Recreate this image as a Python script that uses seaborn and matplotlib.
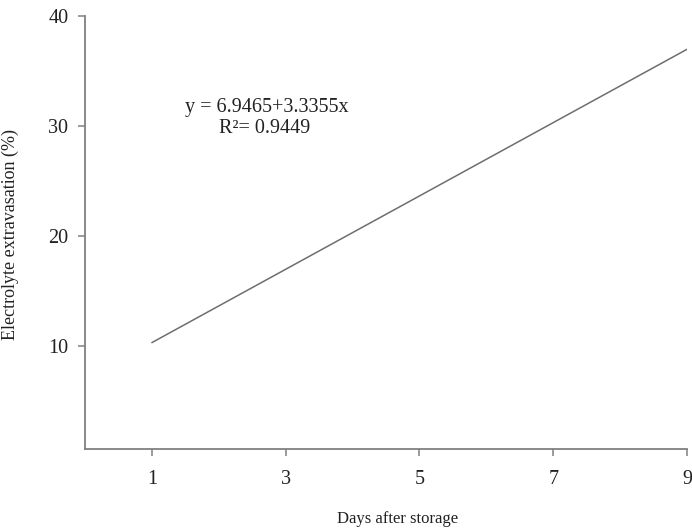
import matplotlib
matplotlib.use("Agg")
import matplotlib.pyplot as plt
import seaborn as sns
import pandas as pd

days = [1, 9]
intercept = 6.9465
slope = 3.3355
extravasation = [10.28, 36.97]
x_ticks = [1, 3, 5, 7, 9]
y_ticks = [10, 20, 30, 40]

sns.set_style("ticks")
plt.rcParams['font.family'] = ['Liberation Serif', 'DejaVu Serif']

df = pd.DataFrame({"Days": days, "EE": extravasation})

fig = plt.figure(figsize=(6.92, 5.31), dpi=100)
ax = fig.add_axes([0.1228, 0.1544, 0.8700, 0.8155])
sns.lineplot(data=df, x="Days", y="EE", ax=ax, color="#6e6e6e", linewidth=1.1)

ax.set_xlim(0, 9)
ax.set_ylim(0.6, 40)
ax.set_xticks(x_ticks)
ax.set_yticks(y_ticks)
for s in ["top", "right"]:
    ax.spines[s].set_visible(False)
for s in ["left", "bottom"]:
    ax.spines[s].set_color("#808080")
    ax.spines[s].set_linewidth(1.3)
ax.tick_params(axis="both", direction="out", length=5, width=1.1, color="#808080",
               labelsize=14.5, labelcolor="#222222")
ax.tick_params(axis="x", pad=10)
ax.tick_params(axis="y", pad=7)

ax.set_xlabel("Days after storage", fontsize=12, color="#222222")
ax.set_ylabel("Electrolyte extravasation (%)", fontsize=13, color="#222222")
ax.xaxis.set_label_coords(0.52, -0.143)
ax.yaxis.set_label_coords(-0.11, 0.495)

ax.text(2.72, 31.7, f"y = {intercept}+{slope}x", ha="center", va="center", fontsize=14.5, color="#222222")
ax.text(2.68, 29.8, "R²= 0.9449", ha="center", va="center", fontsize=14.5, color="#222222")

fig.savefig("out.png", dpi=100)
